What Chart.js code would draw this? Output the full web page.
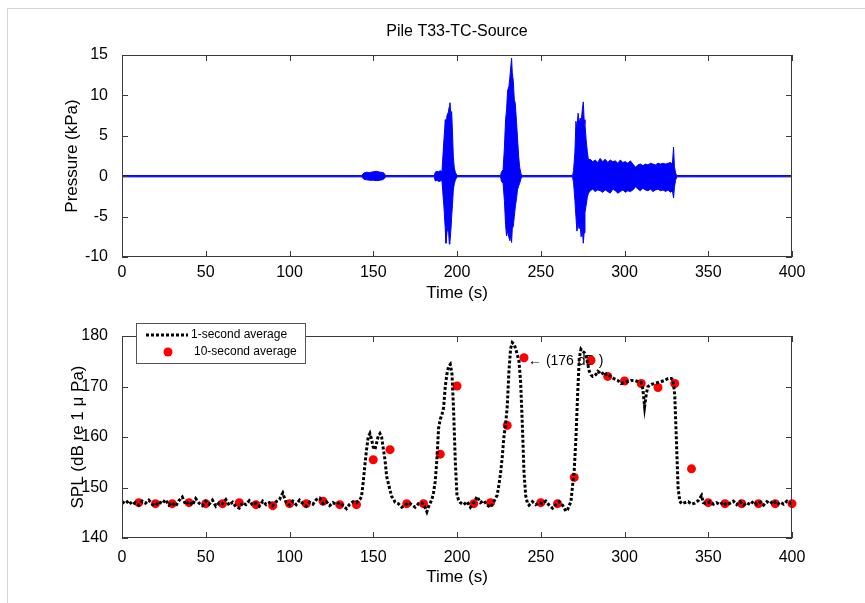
<!DOCTYPE html>
<html>
<head>
<meta charset="utf-8">
<script src="https://cdn.jsdelivr.net/npm/chart.js@4.4.1/dist/chart.umd.min.js"></script>
<style>
html, body { margin: 0; padding: 0; background: #fff; }
#page { position: relative; width: 865px; height: 603px; overflow: hidden; }
#frame { position: absolute; left: 7px; top: 8px; width: 870px; height: 600px; border-top: 1px solid #d4d4d4; border-left: 1px solid #d4d4d4; }
#c1 { position: absolute; left: 0; top: 0; }
#c2 { position: absolute; left: 0; top: 304px; }
</style>
</head>
<body>
<div id="page">
  <div id="frame"></div>
  <canvas id="c1" width="865" height="304"></canvas>
  <canvas id="c2" width="865" height="299"></canvas>
</div>
<script>
// pressure envelope (kPa)
const pTime = [0, 143, 144.5, 146, 148, 150, 152, 154, 156, 157.5,
  186.5, 187, 188, 189, 190, 191, 192.2, 193, 193.4, 194,
  194.8, 195.4, 195.8, 196.4, 196.8, 197.3, 197.8, 198.4, 199, 200,
  226, 226.5, 227.5, 228.3, 229, 229.6, 230.2, 231, 231.6, 232.1,
  232.6, 233, 233.6, 234.2, 234.8, 235.5, 236.1, 236.8, 237.4, 238.2,
  239, 269, 269.6, 270.4, 271, 271.6, 272.3, 272.9, 273.6, 274.1,
  274.8, 275.4, 275.9, 276.4, 277.1, 277.8, 278.5, 279.5, 281, 282.5,
  284, 285.5, 287, 288.5, 290, 291.5, 293, 294.5, 296, 297.5,
  299, 300.5, 302, 303.5, 305, 306.6, 308, 309.5, 311, 312.5,
  314, 315.5, 317, 318.5, 320, 321.5, 323, 324.5, 326, 327.5,
  328.6, 329.3, 329.8, 330.5, 331.2, 400];
const pUpper = [0.08, 0.08, 0.4, 0.5, 0.45, 0.55, 0.6, 0.5, 0.45, 0.08,
  0.08, 0.5, 0.6, 0.55, 0.7, 0.5, 4.5, 7.0, 5.8, 7.5,
  7.9, 8.6, 9.1, 7.4, 8.0, 5.5, 2.4, 1.0, 0.5, 0.08,
  0.08, 0.5, 0.8, 3.5, 7.0, 8.2, 10.6, 11.1, 12.3, 13.5,
  14.6, 12.8, 11.8, 9.5, 9.0, 6.8, 4.8, 2.5, 1.1, 0.3,
  0.08, 0.08, 0.7, 3.0, 6.8, 5.8, 7.8, 6.6, 7.2, 6.6,
  8.2, 9.2, 7.0, 6.4, 4.5, 3.0, 2.0, 2.1, 1.8, 2.0,
  1.7, 2.2, 1.8, 2.1, 1.7, 2.0, 1.8, 1.9, 1.6, 2.0,
  1.7, 1.8, 1.6, 1.9, 1.5, 1.1, 1.4, 1.5, 1.3, 1.5,
  1.4, 1.6, 1.5, 1.4, 1.6, 1.5, 1.6, 1.5, 1.6, 1.7,
  1.5, 3.6, 1.2, 0.4, 0.08, 0.08];
const pLower = [-0.08, -0.08, -0.4, -0.45, -0.5, -0.5, -0.55, -0.5, -0.4, -0.08,
  -0.08, -0.6, -0.5, -0.65, -0.6, -0.5, -3.8, -6.5, -8.3, -7.0,
  -6.0, -8.4, -8.1, -6.5, -5.1, -3.5, -1.7, -0.9, -0.5, -0.08,
  -0.08, -0.6, -0.9, -3.0, -6.0, -7.4, -6.8, -7.6, -8.0, -7.2,
  -8.2, -6.5, -6.2, -5.0, -3.8, -2.8, -1.7, -1.2, -0.9, -0.3,
  -0.08, -0.08, -0.8, -3.0, -5.0, -6.8, -5.8, -6.5, -6.2, -7.5,
  -6.6, -8.3, -7.0, -4.5, -3.6, -2.6, -2.1, -1.8, -1.6, -1.9,
  -1.7, -1.8, -2.0, -1.7, -1.9, -2.1, -1.6, -1.8, -2.1, -1.9,
  -1.7, -2.0, -1.8, -1.9, -1.7, -1.3, -1.6, -1.8, -1.5, -1.7,
  -1.8, -1.6, -1.9, -1.7, -1.6, -1.8, -1.7, -1.9, -1.7, -2.0,
  -1.8, -2.7, -1.4, -0.5, -0.08, -0.08];

// 1-second average SPL (dB)
const splTime = [0, 2, 4, 6, 8, 10, 12, 14, 16, 18, 20, 22, 24, 26, 28, 30, 32, 34, 36, 38,
  40, 42, 44, 46, 48, 50, 52, 54, 56, 58, 60, 62, 64, 66, 68, 70, 72, 74, 76, 78,
  80, 82, 84, 86, 88, 90, 92, 94, 96, 98, 100, 102, 104, 106, 108, 110, 112, 114, 116, 118,
  120, 122, 124, 126, 128, 130, 132, 134, 136, 138, 140, 142, 143, 144, 145, 146, 147, 148, 149, 150,
  151, 152, 153, 154, 155, 156, 157, 158, 159, 160, 161, 162, 163, 165, 167, 169, 171, 173, 175, 177,
  179, 181, 182, 183, 185, 186, 187, 188, 189, 190, 191, 192, 193, 194, 195, 196, 197, 198, 199, 200,
  201, 202, 204, 206, 208, 210, 212, 214, 216, 218, 220, 222, 224, 225, 226, 227, 228, 229, 230, 231,
  232, 233, 234, 235, 236, 237, 238, 239, 240, 241, 242, 243, 245, 247, 249, 251, 253, 255, 257, 259,
  261, 263, 265, 266, 267, 268, 269, 270, 271, 272, 273, 274, 275, 276, 277, 278, 279, 280, 281, 282,
  283, 284, 285, 286, 287, 288, 289, 290, 292, 294, 296, 298, 300, 302, 304, 306, 308, 310, 311, 312,
  313, 314, 316, 318, 320, 322, 324, 326, 328, 329, 330, 331, 332, 333, 334, 336, 338, 340, 342, 344,
  346, 347, 349, 351, 353, 355, 357, 359, 361, 363, 365, 367, 369, 371, 373, 375, 377, 379, 381, 383,
  385, 387, 389, 391, 393, 395, 397, 399, 400];
const splValue = [147.2, 146.8, 147.4, 146.6, 147.0, 146.5, 147.3, 146.9, 147.5, 146.7, 146.4, 147.2, 146.8, 147.6, 146.5, 147.0, 146.3, 147.4, 148.1, 146.6,
  147.2, 146.5, 147.8, 146.9, 146.4, 147.3, 146.7, 147.5, 146.3, 147.0, 146.8, 147.6, 146.5, 147.1, 146.2, 145.9, 147.0, 146.6, 147.4, 146.5,
  146.9, 146.3, 147.3, 146.6, 147.0, 146.4, 147.2, 147.6, 148.9, 147.0, 146.5, 147.3, 146.6, 147.5, 146.8, 146.3, 147.1, 146.7, 147.6, 147.9,
  146.8, 147.2, 146.4, 147.0, 146.6, 147.0, 146.4, 145.8, 146.7, 147.2, 147.0, 147.6, 148.2, 151.0, 154.4, 157.5, 160.0, 160.7, 159.5, 158.0,
  157.5, 158.8, 160.2, 160.7, 160.0, 157.7, 155.5, 152.2, 150.8, 149.5, 148.2, 147.8, 147.1, 146.8, 146.1, 146.5, 147.0, 146.6, 146.1, 146.8,
  147.0, 146.0, 145.2, 146.2, 147.6, 149.0, 151.2, 155.5, 161.7, 163.5, 164.4, 165.8, 170.0, 172.5, 174.0, 174.4, 172.5, 165.0, 155.0, 148.4,
  147.5, 147.0, 146.6, 147.2, 146.1, 147.0, 148.2, 147.0, 147.4, 146.5, 146.1, 147.2, 148.5, 150.5, 152.8, 156.0, 160.0, 162.5, 166.0, 173.0,
  177.5, 178.7, 178.4, 177.5, 176.3, 175.0, 170.8, 162.5, 153.0, 148.4, 147.0, 146.5, 147.2, 146.6, 147.0, 146.8, 147.3, 146.5, 145.9, 146.6,
  147.2, 146.5, 145.3, 145.6, 146.4, 147.2, 150.4, 153.5, 159.7, 168.3, 175.6, 177.4, 177.0, 176.7, 176.2, 174.5, 173.0, 172.3, 172.0, 172.2,
  172.4, 173.0, 172.8, 172.4, 172.6, 172.9, 172.4, 172.5, 171.9, 171.5, 171.2, 170.6, 170.8, 171.0, 171.2, 171.2, 171.0, 170.8, 169.4, 166.0,
  168.5, 170.0, 170.4, 170.6, 170.8, 171.0, 171.2, 171.6, 171.6, 171.3, 168.3, 159.2, 149.9, 147.3, 146.8, 147.0, 147.2, 146.7, 146.9, 147.4,
  148.4, 147.0, 146.8, 147.2, 146.7, 147.0, 146.6, 147.1, 146.5, 146.9, 147.3, 146.6, 147.2, 146.5, 147.0, 146.6, 147.3, 146.7, 147.1, 146.5,
  147.2, 146.8, 147.4, 146.6, 147.1, 146.7, 147.3, 146.9, 147.2];

// 10-second average SPL (dB)
const avgTime = [10, 20, 30, 40, 50, 60, 70, 80, 90, 100, 110, 120, 130, 140, 150, 160, 170, 180, 190, 200,
  210, 220, 230, 240, 250, 260, 270, 280, 290, 300, 310, 320, 330, 340, 350, 360, 370, 380, 390, 400];
const avgValue = [147.0, 146.8, 146.8, 147.0, 146.8, 146.8, 147.0, 146.6, 146.4, 146.8, 146.8, 147.3, 146.6, 146.6, 155.5, 157.5, 146.8, 146.8, 156.6, 170.1,
  146.8, 147.0, 162.3, 175.7, 147.0, 146.8, 152.0, 175.2, 172.0, 171.1, 170.6, 169.8, 170.6, 153.7, 147.0, 146.8, 146.8, 146.8, 146.8, 146.8];

const timeTicks = [0, 50, 100, 150, 200, 250, 300, 350, 400];

Chart.defaults.font.family = "'Liberation Sans', Arial, sans-serif";
Chart.defaults.color = '#000';

const tickFont = { size: 16 };
const titleFont = { size: 17 };

// MATLAB style box with inward ticks on every side
const boxTicks = {
  id: 'boxTicks',
  afterDatasetsDraw(chart) {
    const { ctx, chartArea: a, scales: { x, y } } = chart;
    ctx.save();
    ctx.strokeStyle = '#3a3a3a';
    ctx.lineWidth = 1;
    ctx.beginPath();
    x.ticks.forEach(t => {
      const px = Math.round(x.getPixelForValue(t.value)) + 0.5;
      ctx.moveTo(px, a.bottom); ctx.lineTo(px, a.bottom - 6);
      ctx.moveTo(px, a.top); ctx.lineTo(px, a.top + 6);
    });
    y.ticks.forEach(t => {
      const py = Math.round(y.getPixelForValue(t.value)) + 0.5;
      ctx.moveTo(a.left, py); ctx.lineTo(a.left + 6, py);
      ctx.moveTo(a.right, py); ctx.lineTo(a.right - 6, py);
    });
    ctx.stroke();
    ctx.strokeRect(a.left + 0.5, a.top + 0.5, a.width - 1, a.height - 1);
    ctx.restore();
  }
};

// title centred over the plot box, like the MATLAB axes title
const plotTitle = {
  id: 'plotTitle',
  afterDraw(chart) {
    const { ctx, chartArea: a } = chart;
    ctx.save();
    ctx.fillStyle = '#000';
    ctx.font = "16px 'Liberation Sans', Arial, sans-serif";
    ctx.textAlign = 'center';
    ctx.textBaseline = 'middle';
    ctx.fillText('Pile T33-TC-Source', (a.left + a.right) / 2, 32);
    ctx.restore();
  }
};

function xAxis(height, pad) {
  return {
    type: 'linear', min: 0, max: 400,
    afterBuildTicks: s => { s.ticks = timeTicks.map(v => ({ value: v })); },
    grid: { display: false }, border: { display: false },
    ticks: { font: tickFont, padding: pad, maxRotation: 0 },
    title: { display: true, text: 'Time (s)', font: titleFont, padding: 0 },
    afterFit: s => { s.height = height; }
  };
}

function yAxis(min, max, step, label, width) {
  return {
    type: 'linear', min: min, max: max,
    grid: { display: false }, border: { display: false },
    ticks: { font: tickFont, stepSize: step, padding: 6 },
    title: { display: true, text: label, font: titleFont, padding: 0 },
    afterFit: s => { s.width = width; }
  };
}

new Chart(document.getElementById('c1'), {
  type: 'line',
  data: {
    datasets: [{
      data: pTime.map((t, i) => ({ x: t, y: pUpper[i] })),
      borderColor: '#0000ff', borderWidth: 1, pointRadius: 0, fill: false
    }, {
      data: pTime.map((t, i) => ({ x: t, y: pLower[i] })),
      borderColor: '#0000ff', borderWidth: 1, pointRadius: 0,
      fill: '-1', backgroundColor: '#0000ff'
    }]
  },
  options: {
    responsive: false, animation: false,
    layout: { padding: { left: 62, right: 73, top: 55, bottom: 0 } },
    plugins: { legend: { display: false }, tooltip: { enabled: false } },
    scales: { x: xAxis(47, -2), y: yAxis(-10, 15, 5, 'Pressure (kPa)', 60) }
  },
  plugins: [boxTicks, plotTitle]
});

// legend box and the (176 dB) note
const splExtras = {
  id: 'splExtras',
  beforeDatasetsDraw(chart) {
    const { ctx, scales: { x, y } } = chart;
    ctx.save();
    ctx.fillStyle = '#000';
    ctx.font = "14px 'Liberation Sans', Arial, sans-serif";
    ctx.textBaseline = 'middle';
    ctx.fillText('\u2190 (176 dB )', x.getPixelForValue(240) + 4, y.getPixelForValue(175.1));
    ctx.restore();
  },
  afterDraw(chart) {
    const { ctx } = chart;
    ctx.save();
    ctx.fillStyle = '#fff';
    ctx.fillRect(136, 19, 169, 40);
    ctx.strokeStyle = '#555';
    ctx.lineWidth = 1;
    ctx.strokeRect(136.5, 19.5, 169, 40);
    ctx.strokeStyle = '#000';
    ctx.lineWidth = 3;
    ctx.setLineDash([3, 2]);
    ctx.beginPath();
    ctx.moveTo(146, 31); ctx.lineTo(188, 31);
    ctx.stroke();
    ctx.setLineDash([]);
    ctx.fillStyle = '#ff0000';
    ctx.beginPath();
    ctx.arc(168, 48, 4.5, 0, Math.PI * 2);
    ctx.fill();
    ctx.fillStyle = '#000';
    ctx.font = "12px 'Liberation Sans', Arial, sans-serif";
    ctx.textBaseline = 'middle';
    ctx.fillText('1-second average', 191, 31);
    ctx.fillText('10-second average', 194, 48);
    ctx.restore();
  }
};

new Chart(document.getElementById('c2'), {
  type: 'line',
  data: {
    datasets: [{
      label: '1-second average',
      data: splTime.map((t, i) => ({ x: t, y: splValue[i] })),
      borderColor: '#000', borderWidth: 3, borderDash: [3, 2],
      pointRadius: 0, fill: false
    }, {
      label: '10-second average',
      data: avgTime.map((t, i) => ({ x: t, y: avgValue[i] })),
      showLine: false, pointRadius: 4.5, pointBackgroundColor: '#ff0000',
      pointBorderWidth: 0, clip: false
    }]
  },
  options: {
    responsive: false, animation: false,
    layout: { padding: { left: 68, right: 73, top: 32, bottom: 15 } },
    plugins: { legend: { display: false }, tooltip: { enabled: false } },
    scales: { x: xAxis(50, 2), y: yAxis(140, 180, 10, 'SPL (dB re 1 \u03bc Pa)', 54) }
  },
  plugins: [boxTicks, splExtras]
});
</script>
</body>
</html>
